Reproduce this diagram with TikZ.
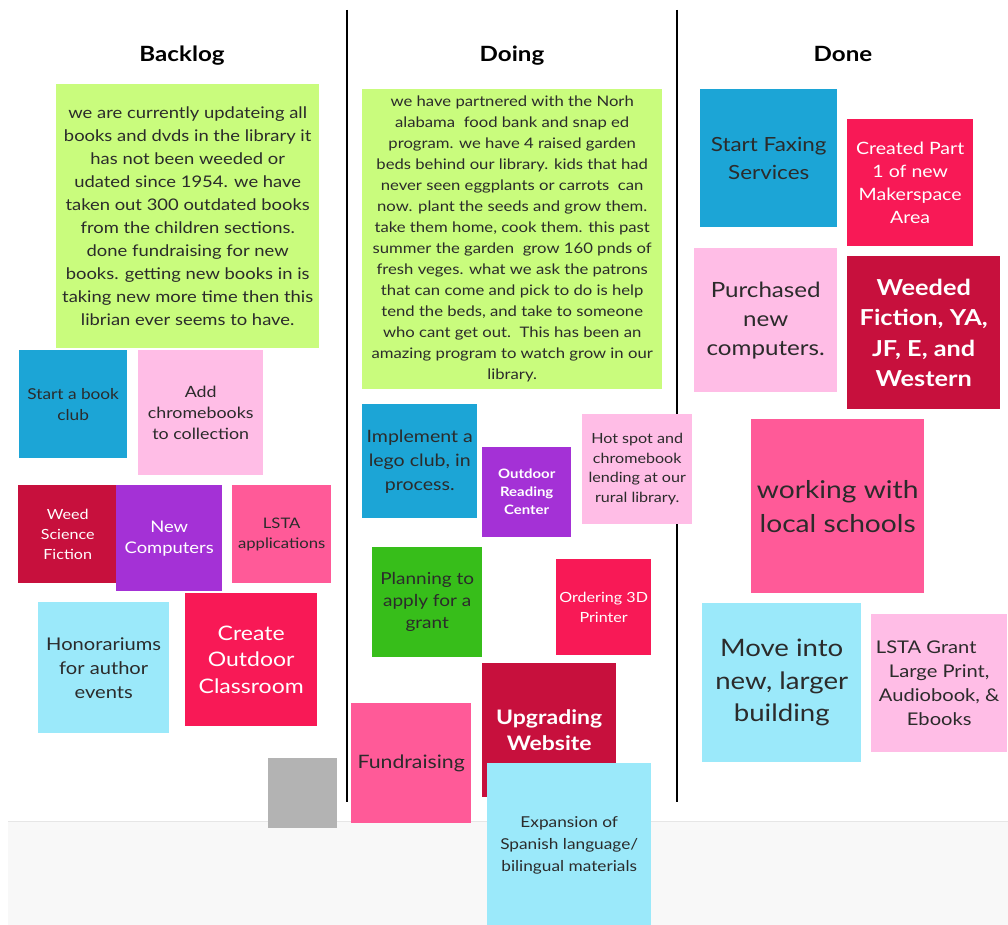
\documentclass[tikz,border=0pt]{standalone}
\usepackage{fontspec}
\setmainfont{Lato}[FakeStretch=1.15]
\begin{document}
\definecolor{lime}{HTML}{C9FC7D}
\definecolor{skyblue}{HTML}{1CA5D6}
\definecolor{softpink}{HTML}{FFBDE6}
\definecolor{crimson}{HTML}{C7103D}
\definecolor{violet}{HTML}{A431D6}
\definecolor{hotpink}{HTML}{FF5A98}
\definecolor{icecyan}{HTML}{9BE9FA}
\definecolor{rosered}{HTML}{F81956}
\definecolor{leaf}{HTML}{37BE1A}
\definecolor{ink}{HTML}{2B2B2B}
\definecolor{bandgray}{HTML}{F8F8F8}
\definecolor{bandline}{HTML}{E6E6E6}
\begin{tikzpicture}[x=1pt,y=-1pt,
  sticky/.style={rectangle, inner sep=0pt, anchor=north west, align=center, text=ink},
  light/.style={text=white},
  heading/.style={anchor=base, font=\fontsize{21}{25}\bfseries\selectfont, text=black},
  divider/.style={line width=2pt, black}]
\useasboundingbox (0,0) rectangle (1008,925);
\fill[white] (0,0) rectangle (1008,925);
% lower band of the board
\fill[bandgray] (8,821) rectangle (1008,925);
\draw[bandline, line width=1pt] (8,821) -- (1008,821);
% column dividers
\draw[divider] (347,10) -- (347,802);
\draw[divider] (677,10) -- (677,802);
% column headings
\node[heading] (hback) at (182,62) {Backlog};
\node[heading] (hdoing) at (512,62) {Doing};
\node[heading] (hdone) at (843,62) {Done};

% ---------- Backlog ----------
\node[sticky, fill=lime, minimum width=263, minimum height=264, font=\fontsize{16}{22.9}\selectfont] (b1) at (56,84)
 {we are currently updateing all\\books and dvds in the library it\\has not been weeded or\\udated since 1954. we have\\taken out 300 outdated books\\from the children sections.\\done fundraising for new\\books. getting new books in is\\taking new more time then this\\librian ever seems to have.};
\node[sticky, fill=skyblue, minimum width=108, minimum height=108, font=\fontsize{15}{21}\selectfont] (b2) at (19,350)
 {Start a book\\club};
\node[sticky, fill=softpink, minimum width=125, minimum height=125, font=\fontsize{15.5}{21}\selectfont] (b3) at (138,350)
 {Add\\chromebooks\\to collection};
\node[sticky, light, fill=crimson, minimum width=99, minimum height=98, font=\fontsize{14}{20}\selectfont] (b4) at (18,485)
 {Weed\\Science\\Fiction};
\node[sticky, light, fill=violet, minimum width=106, minimum height=106, font=\fontsize{16}{21}\selectfont] (b5) at (116,485)
 {New\\Computers};
\node[sticky, fill=hotpink, minimum width=99, minimum height=98, font=\fontsize{14.5}{20}\selectfont] (b6) at (232,485)
 {LSTA\\applications};
\node[sticky, fill=icecyan, minimum width=131, minimum height=131, font=\fontsize{17.5}{24}\selectfont] (b7) at (38,602)
 {Honorariums\\for author\\events};
\node[sticky, light, fill=rosered, minimum width=132, minimum height=133, font=\fontsize{20}{26.5}\selectfont] (b8) at (185,593)
 {Create\\Outdoor\\Classroom};
\node[sticky, fill={rgb,255:red,179;green,179;blue,179}, minimum width=69, minimum height=70] (b9) at (268,758) {};

% ---------- Doing ----------
\node[sticky, fill=lime, minimum width=300, minimum height=300, font=\fontsize{14.5}{21}\selectfont] (d1) at (362,89)
 {we have partnered with the Norh\\alabama\ \ food bank and snap ed\\program. we have 4 raised garden\\beds behind our library. kids that had\\never seen eggplants or carrots\ \ can\\now. plant the seeds and grow them.\\take them home, cook them. this past\\summer the garden\ \ grow 160 pnds of\\fresh veges. what we ask the patrons\\that can come and pick to do is help\\tend the beds, and take to someone\\who cant get out.\ \ This has been an\\amazing program to watch grow in our\\library.};
\node[sticky, fill=skyblue, minimum width=115, minimum height=114, font=\fontsize{17}{24}\selectfont] (d2) at (362,404)
 {Implement a\\lego club, in\\process.};
\node[sticky, light, fill=violet, minimum width=89, minimum height=90, font=\fontsize{13}{18}\bfseries\selectfont] (d3) at (482,447)
 {Outdoor\\Reading\\Center};
\node[sticky, fill=softpink, minimum width=110, minimum height=110, font=\fontsize{14}{19.5}\selectfont] (d4) at (582,414)
 {Hot spot and\\chromebook\\lending at our\\rural library.};
\node[sticky, fill=leaf, minimum width=110, minimum height=110, font=\fontsize{16.5}{22}\selectfont] (d5) at (372,547)
 {Planning to\\apply for a\\grant};
\node[sticky, light, fill=rosered, minimum width=95, minimum height=96, font=\fontsize{14}{20}\selectfont] (d6) at (556,559)
 {Ordering 3D\\Printer};
\node[sticky, light, fill=crimson, minimum width=134, minimum height=134, font=\fontsize{20}{26}\bfseries\selectfont] (d7) at (482,663)
 {Upgrading\\Website};
\node[sticky, fill=hotpink, minimum width=120, minimum height=120, font=\fontsize{18.5}{24}\selectfont] (d8) at (351,703)
 {Fundraising};
\node[sticky, fill=icecyan, minimum width=164, minimum height=164, font=\fontsize{15}{22}\selectfont] (d9) at (487,763)
 {Expansion of\\Spanish language/\\bilingual materials};

% ---------- Done ----------
\node[sticky, fill=skyblue, minimum width=137, minimum height=138, font=\fontsize{19.5}{28}\selectfont] (n1) at (700,89)
 {Start Faxing\\Services};
\node[sticky, light, fill=rosered, minimum width=126, minimum height=127, font=\fontsize{17}{23}\selectfont] (n2) at (847,119)
 {Created Part\\1 of new\\Makerspace\\Area};
\node[sticky, fill=softpink, minimum width=143, minimum height=144, font=\fontsize{21}{29}\selectfont] (n3) at (694,248)
 {Purchased\\new\\computers.};
\node[sticky, light, fill=crimson, minimum width=153, minimum height=153, font=\fontsize{22}{30.5}\bfseries\selectfont] (n4) at (847,256)
 {Weeded\\Fiction, YA,\\JF, E, and\\Western};
\node[sticky, fill=hotpink, minimum width=173, minimum height=174, font=\fontsize{24.5}{34}\selectfont] (n5) at (751,419)
 {working with\\local schools};
\node[sticky, fill=icecyan, minimum width=159, minimum height=159, font=\fontsize{24}{32.5}\selectfont] (n6) at (702,603)
 {Move into\\new, larger\\building};
\node[sticky, fill=softpink, minimum width=136, minimum height=138, font=\fontsize{17.5}{23.7}\selectfont] (n7) at (871,614)
 {LSTA Grant\hspace*{26pt}\\Large Print,\\Audiobook, \&\\Ebooks};
\end{tikzpicture}
\end{document}
